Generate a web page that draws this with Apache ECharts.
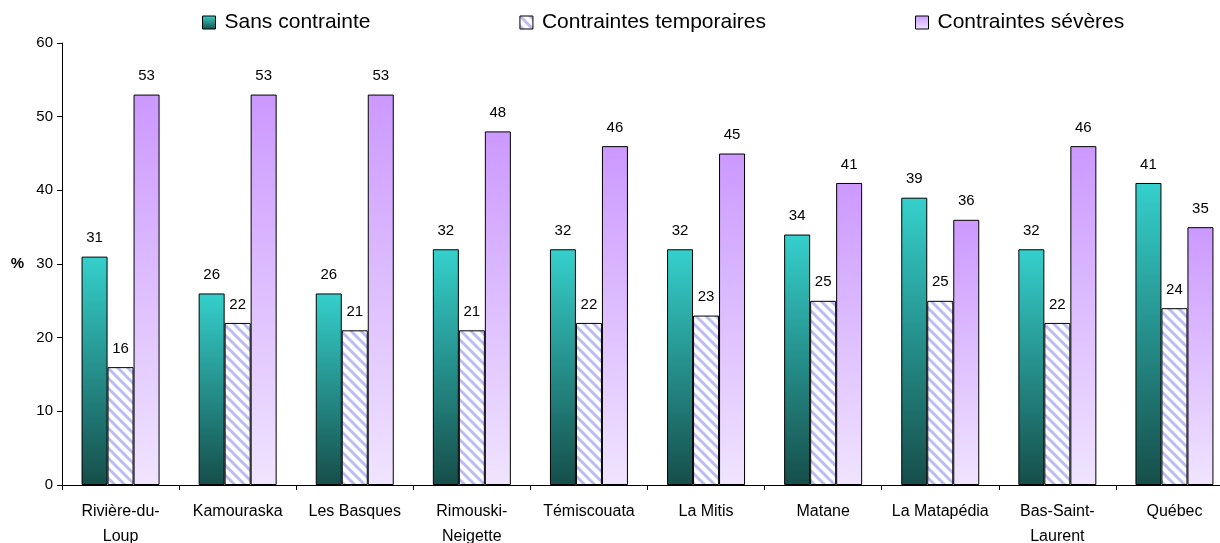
<!DOCTYPE html>
<html>
<head>
<meta charset="utf-8">
<script src="https://cdn.jsdelivr.net/npm/echarts@6/dist/echarts.min.js"></script>
<style>
html, body { margin: 0; padding: 0; background: #fff; }
#chart { width: 1220px; height: 543px; }
</style>
</head>
<body>
<div id="chart"></div>
<script>
var regions = ['Rivière-du-\nLoup', 'Kamouraska', 'Les Basques', 'Rimouski-\nNeigette', 'Témiscouata',
	'La Mitis', 'Matane', 'La Matapédia', 'Bas-Saint-\nLaurent', 'Québec'];
var sansContrainte = [31, 26, 26, 32, 32, 32, 34, 39, 32, 41];
var contraintesTemporaires = [16, 22, 21, 21, 22, 23, 25, 25, 22, 24];
var contraintesSeveres = [53, 53, 53, 48, 46, 45, 41, 36, 46, 35];
var seriesNames = ['Sans contrainte', 'Contraintes temporaires', 'Contraintes sévères'];

// hachures pour la série du milieu
function hatch() {
	var n = 10;
	var c = document.createElement('canvas');
	c.width = n; c.height = n;
	var ctx = c.getContext('2d');
	ctx.fillStyle = '#ffffff';
	ctx.fillRect(0, 0, n, n);
	ctx.strokeStyle = '#bcbcf4';
	ctx.lineWidth = 3;
	ctx.beginPath();
	ctx.moveTo(-2, -2); ctx.lineTo(n + 2, n + 2);
	ctx.moveTo(-2, n - 2); ctx.lineTo(2, n + 2);
	ctx.moveTo(n - 2, -2); ctx.lineTo(n + 2, 2);
	ctx.stroke();
	return c;
}

var font = 'Liberation Sans, Arial, sans-serif';
var myChart = echarts.init(document.getElementById('chart'));

function labelOpt() {
	return { show: true, position: 'top', distance: 11, color: '#000', fontSize: 15, fontFamily: font };
}

var option = {
	animation: false,
	legend: {
		top: 7,
		left: 197,
		itemGap: 149,
		itemWidth: 13,
		itemHeight: 13,
		icon: 'rect',
		itemStyle: { borderColor: '#000', borderWidth: 1 },
		textStyle: { fontSize: 21, color: '#000', fontFamily: font, padding: [0, 0, 0, 4] },
		data: seriesNames
	},
	grid: { left: 62, right: -13, top: 43, bottom: 58, outerBoundsMode: 'none', containLabel: false },
	xAxis: {
		type: 'category',
		data: regions,
		axisLine: { lineStyle: { color: '#000' } },
		axisTick: { show: true, length: 5, lineStyle: { color: '#000' } },
		axisLabel: { color: '#000', fontSize: 16, fontFamily: font, margin: 14, lineHeight: 25, interval: 0 }
	},
	yAxis: {
		type: 'value',
		min: 0,
		max: 60,
		interval: 10,
		name: '%',
		nameLocation: 'middle',
		nameRotate: 0,
		nameGap: 38,
		nameTextStyle: { fontWeight: 'bold', fontSize: 15, color: '#000', fontFamily: font },
		axisLine: { show: true, lineStyle: { color: '#000' } },
		axisTick: { show: true, length: 5, lineStyle: { color: '#000' } },
		axisLabel: { color: '#000', fontSize: 15, fontFamily: font, margin: 9 },
		splitLine: { show: false }
	},
	series: [{
		name: seriesNames[0],
		type: 'bar',
		barWidth: 26,
		barGap: '0%',
		data: sansContrainte,
		label: labelOpt(),
		itemStyle: {
			borderColor: '#000',
			borderWidth: 1,
			color: new echarts.graphic.LinearGradient(0, 0, 0, 1, [
				{ offset: 0, color: '#35d0cc' },
				{ offset: 1, color: '#164e4a' }
			])
		}
	}, {
		name: seriesNames[1],
		type: 'bar',
		barWidth: 26,
		barGap: '0%',
		data: contraintesTemporaires,
		label: labelOpt(),
		itemStyle: {
			borderColor: '#000',
			borderWidth: 1,
			color: { image: hatch(), repeat: 'repeat' }
		}
	}, {
		name: seriesNames[2],
		type: 'bar',
		barWidth: 26,
		barGap: '0%',
		data: contraintesSeveres,
		label: labelOpt(),
		itemStyle: {
			borderColor: '#000',
			borderWidth: 1,
			color: new echarts.graphic.LinearGradient(0, 0, 0, 1, [
				{ offset: 0, color: '#cc99ff' },
				{ offset: 1, color: '#f0e4ff' }
			])
		}
	}]
};
myChart.setOption(option);
</script>
</body>
</html>
